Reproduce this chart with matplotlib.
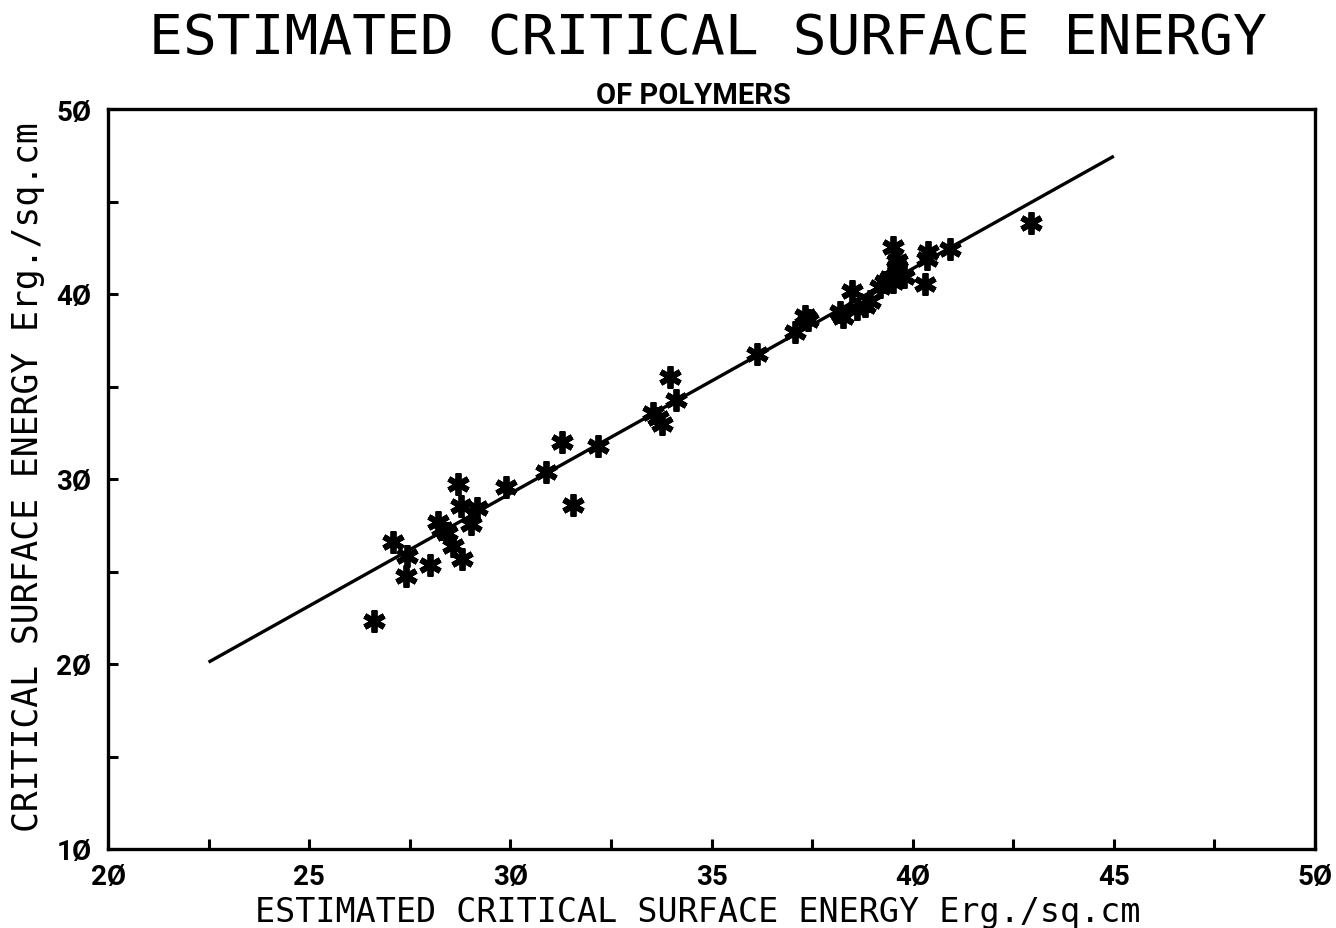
import matplotlib
matplotlib.use("Agg")
import matplotlib.pyplot as plt
import numpy as np

# Data (estimated critical surface energy vs critical surface energy)
est_x = [26.61, 27.09, 27.42, 27.41, 28.00, 28.21, 28.29, 28.43, 28.58, 28.81,
         28.69, 28.77, 29.16, 29.02, 29.89, 30.89, 31.28, 32.19, 31.57,
         33.97, 34.12, 33.55, 33.68, 33.76, 36.13,
         37.08, 37.33, 37.40, 38.19, 38.28, 38.49, 38.61, 38.82, 38.94, 39.19,
         39.30, 39.52, 39.52, 39.61, 39.60, 39.44, 39.77, 39.79,
         40.39, 40.35, 40.93, 40.31, 42.94]
crit_y = [22.34, 26.58, 25.82, 24.77, 25.35, 27.66, 27.30, 27.06, 26.39, 25.68,
          29.73, 28.56, 28.42, 27.57, 29.55, 30.36, 32.02, 31.76, 28.59,
          35.50, 34.27, 33.55, 33.30, 32.97, 36.75,
          37.95, 38.81, 38.60, 39.03, 38.74, 40.18, 39.19, 39.37, 39.64, 40.36,
          40.63, 40.63, 42.52, 41.78, 41.44, 40.89, 40.99, 40.92,
          42.25, 41.89, 42.43, 40.54, 43.84]

fit_x = [22.5, 45.0]
fit_y = [20.1, 47.45]

xtick_vals = [20, 25, 30, 35, 40, 45, 50]
xtick_labels = ["2Ø", "25", "3Ø", "35", "4Ø", "45", "5Ø"]
ytick_vals = [10, 20, 30, 40, 50]
ytick_labels = ["1Ø", "2Ø", "3Ø", "4Ø", "5Ø"]

fig = plt.figure(figsize=(13.36, 9.29), dpi=100)
ax = fig.add_axes([108/1336, 1 - 850/929, (1315-108)/1336, (850-110)/929])

ax.plot(fit_x, fit_y, color="black", lw=2.4, solid_capstyle="butt")
ax.plot(est_x, crit_y, linestyle="none", marker=(6, 2, 0), markersize=16,
        markeredgewidth=4.2, color="black")

ax.set_xlim(20, 50)
ax.set_ylim(10, 50)

bold_font = dict(family=["Roboto", "DejaVu Sans"], weight="bold", size=20)
ax.set_xticks(xtick_vals)
ax.set_xticklabels(xtick_labels, fontdict=bold_font)
ax.set_xticks(np.arange(22.5, 50, 5), minor=True)
ax.set_yticks(ytick_vals)
ax.set_yticklabels(ytick_labels, fontdict=bold_font)
ax.set_yticks(np.arange(15, 50, 10), minor=True)

ax.tick_params(which="both", direction="in", length=7, width=2.2,
               top=False, right=False)
ax.tick_params(axis="x", which="major", pad=10)
ax.tick_params(axis="y", which="major", pad=12)

for s in ax.spines.values():
    s.set_linewidth(2.4)

mono = ["DejaVu Sans Mono"]
fig.text(0.530, 0.958, "ESTIMATED CRITICAL SURFACE ENERGY", family=mono,
         fontsize=40.5, ha="center", va="center")
fig.text(0.519, 0.897, "OF POLYMERS", family=["Roboto", "DejaVu Sans"],
         weight="bold", fontsize=21, ha="center", va="center")
fig.text(0.522, 0.018, "ESTIMATED CRITICAL SURFACE ENERGY Erg./sq.cm",
         family=mono, fontsize=24, ha="center", va="center")
fig.text(0.021, 0.486, "CRITICAL SURFACE ENERGY Erg./sq.cm",
         family=mono, fontsize=25, ha="center", va="center", rotation=90)

fig.savefig("out.png", dpi=100)
